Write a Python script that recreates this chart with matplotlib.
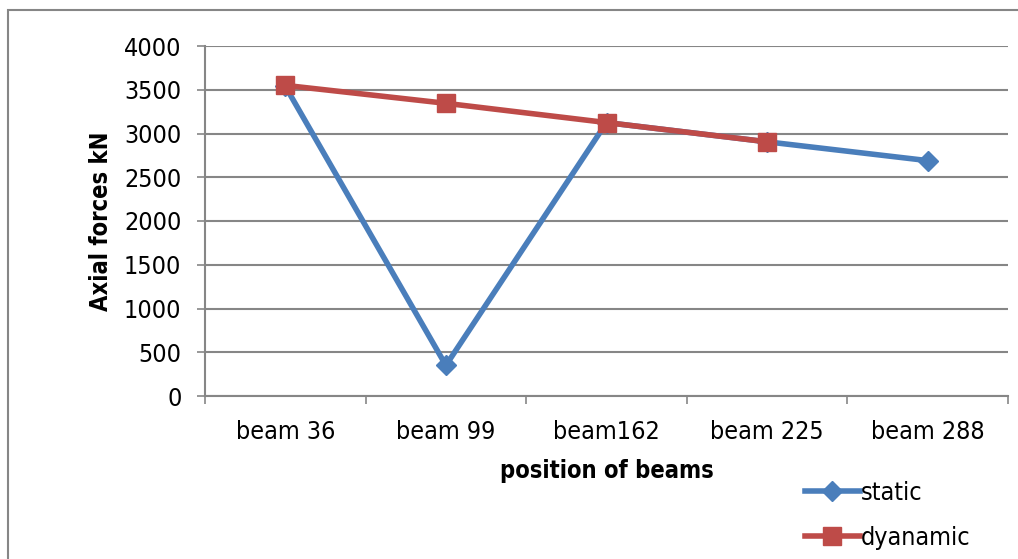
import numpy as np
import matplotlib.pyplot as plt
from matplotlib.patches import Rectangle

plt.rcParams['font.family'] = ['DejaVu Sans']
plt.rcParams['font.stretch'] = 'condensed'

beams = ["beam 36", "beam 99", "beam162", "beam 225", "beam 288"]
static = [3540, 350, 3125, 2905, 2690]
dynamic = [3550, 3345, 3125, 2905, np.nan]

fig = plt.figure(figsize=(10.18, 5.59), dpi=100)
ax = fig.add_axes([205/1018, 1-396/559, (1008-205)/1018, 350/559])

x = np.arange(len(beams))
ax.plot(x, static, color="#4A7EBB", lw=4, marker="D", ms=10, label="static")
ax.plot(x, dynamic, color="#BE4B48", lw=4, marker="s", ms=13, label="dyanamic")

ax.set_xlim(-0.5, len(beams) - 0.5)
ax.set_ylim(0, 4000)
ax.set_yticks(range(0, 4001, 500))
ax.set_xticks(x)
ax.set_xticklabels(beams)
ax.set_xticks(np.arange(-0.5, len(beams)), minor=True)
ax.tick_params(axis="x", which="major", length=0, pad=17, labelsize=18)
ax.tick_params(axis="x", which="minor", length=6, color="#868686", width=1.2)
ax.tick_params(axis="y", length=6, color="#868686", width=1.2, labelsize=18, pad=11)
ax.grid(axis="y", color="#868686", lw=1.5)
ax.set_axisbelow(True)
for s in ["top", "right"]:
    ax.spines[s].set_visible(False)
for s in ["left", "bottom"]:
    ax.spines[s].set_color("#868686")
    ax.spines[s].set_linewidth(1.5)

ax.set_xlabel("position of beams", fontsize=17, fontweight="bold", fontstretch="condensed", labelpad=11)
ax.set_ylabel("Axial forces kN", fontsize=17, fontweight="bold", fontstretch="condensed", labelpad=8)

ax.legend(loc="upper left", bbox_to_anchor=(792/1018, 1-468/559), bbox_transform=fig.transFigure,
          frameon=False, fontsize=18, handlelength=2.2, handletextpad=0.05, labelspacing=0.85,
          borderpad=0)

fig.patches.append(Rectangle((8/1018, -0.2), 1.2, 1.2-10/559, transform=fig.transFigure,
                             fill=False, edgecolor="#868686", lw=1.5))

fig.savefig("out.png", dpi=100)
